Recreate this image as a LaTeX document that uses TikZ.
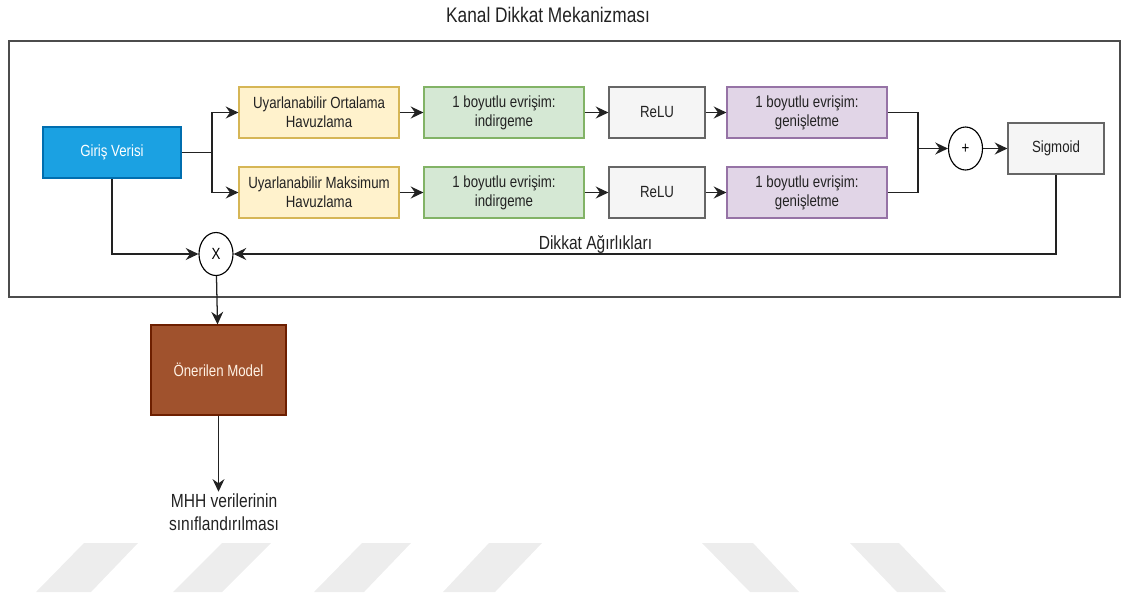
\documentclass[tikz,border=0pt]{standalone}
\usepackage{fontspec}
\setmainfont{Liberation Sans}[FakeStretch=0.82]
\usetikzlibrary{arrows.meta,shapes.geometric}
\definecolor{mavi}{HTML}{1BA1E2}
\definecolor{maviK}{HTML}{006EAF}
\definecolor{sari}{HTML}{FFF2CC}
\definecolor{sariK}{HTML}{D6B656}
\definecolor{yesil}{HTML}{D5E8D4}
\definecolor{yesilK}{HTML}{82B366}
\definecolor{gri}{HTML}{F5F5F5}
\definecolor{griK}{HTML}{666666}
\definecolor{mor}{HTML}{E1D5E7}
\definecolor{morK}{HTML}{9673A6}
\definecolor{kahve}{HTML}{A0522D}
\definecolor{kahveK}{HTML}{6D1F00}
\definecolor{yazi}{HTML}{222222}
\tikzset{
	kutu/.style={draw, line width=0.8pt, minimum width=4cm, minimum height=1.275cm,
			align=center, text=yazi, inner sep=2pt},
	havuz/.style={kutu, fill=sari, draw=sariK},
	evrisim/.style={kutu, fill=yesil, draw=yesilK},
	genis/.style={kutu, fill=mor, draw=morK},
	aktif/.style={kutu, fill=gri, draw=griK, minimum width=2.4cm},
	islem/.style={draw=black, line width=0.8pt, ellipse, minimum width=0.85cm,
			minimum height=1.075cm, inner sep=0pt, fill=white},
	ok/.style={-{Stealth[length=9pt,width=8.5pt,inset=3pt]}, line width=0.9pt, draw=yazi},
	cizgi/.style={line width=0.9pt, draw=yazi},
	buyuk/.style={text=yazi, font=\fontsize{13.5}{16.5}\selectfont}
}

\begin{document}
\begin{tikzpicture}[x=0.025cm, y=-0.025cm, font=\fontsize{11.5}{13.5}\selectfont]
		\useasboundingbox (0,0) rectangle (1128,594);
		% filigran
		\fill[black!7] (84,543) -- (138,543) -- (91,592) -- (36,592) -- cycle;
		\fill[black!7] (222,543) -- (271,543) -- (222,592) -- (173,592) -- cycle;
		\fill[black!7] (362,543) -- (411,543) -- (364,592) -- (314,592) -- cycle;
		\fill[black!7] (489,543) -- (542,543) -- (495,592) -- (443,592) -- cycle;
		\fill[black!7] (702,543) -- (753,543) -- (799,592) -- (750,592) -- cycle;
		\fill[black!7] (850,543) -- (899,543) -- (946,592) -- (897,592) -- cycle;

		\node[buyuk, font=\fontsize{15}{18}\selectfont] (baslik) at (548,15) {Kanal Dikkat Mekanizması};
		\draw[line width=0.8pt, draw=black!70] (9,41) rectangle (1120,297);

		\node[kutu, fill=mavi, draw=maviK, minimum width=3.45cm, text=white] (giris) at (112,152.5) {Giriş Verisi};
		\node[havuz] (ort) at (319,112.5) {Uyarlanabilir Ortalama\\Havuzlama};
		\node[havuz] (maks) at (319,192.5) {Uyarlanabilir Maksimum\\Havuzlama};
		\node[evrisim] (ind1) at (504,112.5) {1 boyutlu evrişim:\\indirgeme};
		\node[evrisim] (ind2) at (504,192.5) {1 boyutlu evrişim:\\indirgeme};
		\node[aktif] (relu1) at (657,112.5) {ReLU};
		\node[aktif] (relu2) at (657,192.5) {ReLU};
		\node[genis] (gen1) at (807,112.5) {1 boyutlu evrişim:\\genişletme};
		\node[genis] (gen2) at (807,192.5) {1 boyutlu evrişim:\\genişletme};
		\node[islem] (arti) at (965.5,148.5) {+};
		\node[aktif] (sig) at (1056,148.5) {Sigmoid};
		\node[islem] (carp) at (216,254) {X};
		\node[kutu, fill=kahve, draw=kahveK, minimum width=3.375cm, minimum height=2.25cm,
			text=orange!10] (model) at (218.5,370) {Önerilen Model};
		\node[buyuk, align=center, inner sep=1pt] (cikti) at (224,512) {MHH verilerinin\\sınıflandırılması};

		\coordinate (dal) at (212,152.5);
		\coordinate (birles) at (918,148.5);

		\draw[cizgi] (giris) -- (dal);
		\draw[ok] (dal) |- (ort);
		\draw[ok] (dal) |- (maks);
		\draw[ok] (ort) -- (ind1);
		\draw[ok] (ind1) -- (relu1);
		\draw[ok] (relu1) -- (gen1);
		\draw[ok] (maks) -- (ind2);
		\draw[ok] (ind2) -- (relu2);
		\draw[ok] (relu2) -- (gen2);
		\draw[cizgi] (gen1) -| (birles);
		\draw[cizgi] (gen2) -| (birles);
		\draw[ok] (birles) -- (arti);
		\draw[ok] (arti) -- (sig);
		\draw[ok] (sig) |- (carp) node[buyuk, pos=0.78, anchor=base, yshift=3pt] {Dikkat Ağırlıkları};
		\draw[ok] (giris) |- (carp);
		\draw[ok] (carp) -- (model);
		\draw[ok] (model) -- (model |- cikti.north);
	\end{tikzpicture}
\end{document}
